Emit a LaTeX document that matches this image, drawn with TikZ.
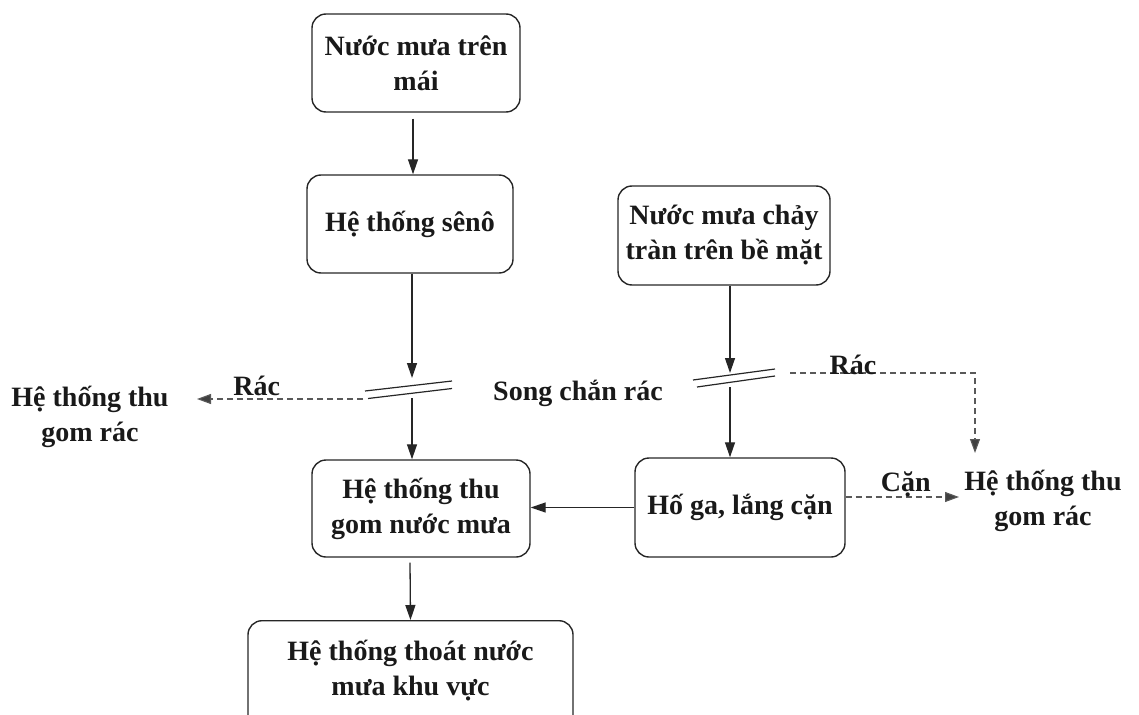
\documentclass[tikz,border=0pt]{standalone}
\usepackage{fontspec}
\setmainfont{Liberation Serif}
\usetikzlibrary{arrows.meta}
\begin{document}
\begin{tikzpicture}[x=1pt,y=-1pt,
  txt/.style={font=\fontsize{28}{35}\selectfont\bfseries, text=black!90},
  box/.style={txt, draw=black!85, line width=1.4pt, rounded corners=14pt, align=center, inner sep=0pt},
  lbl/.style={txt, align=center, inner sep=0pt},
  arr/.style={draw=black!85, line width=1.3pt, -{Triangle[length=15pt,width=10pt]}},
  darr/.style={draw=black!65, line width=1.1pt, dash pattern=on 6pt off 4pt, -{Triangle[length=14pt,width=10pt,fill=black!75]}},
  screen/.style={draw=black!85, line width=1.2pt}
]
\useasboundingbox (0,0) rectangle (1139,714);
\clip (0,0) rectangle (1139,714);

% boxes
\node[box, minimum width=208pt, minimum height=98pt] (b1) at (416,63) {Nước mưa trên\\mái};
\node[box, minimum width=206pt, minimum height=98pt] (b2) at (410,224) {Hệ thống sênô};
\node[box, minimum width=212pt, minimum height=99pt] (b3) at (724,235.5) {Nước mưa chảy\\tràn trên bề mặt};
\node[box, minimum width=218pt, minimum height=97pt] (b4) at (421,508.5) {Hệ thống thu\\gom nước mưa};
\node[box, minimum width=210pt, minimum height=99pt] (b5) at (740,507.5) {Hố ga, lắng cặn};
\node[box, minimum width=325pt, minimum height=112pt, anchor=north] (b6) at (410.5,620) {};
\node[lbl] (b6t) at (410.5,671) {Hệ thống thoát nước\\mưa khu vực};

% side labels
\node[lbl] (gl) at (90,417) {Hệ thống thu\\gom rác};
\node[lbl] (gr) at (1043,501) {Hệ thống thu\\gom rác};
\node[lbl] (song) at (578,393) {Song chắn rác};

% screens
\coordinate (s1a) at (412,378);
\coordinate (s1b) at (412,398);
\coordinate (s2a) at (730,373);
\coordinate (s2b) at (730,387);
\draw[screen] (365,391) -- (452,381);
\draw[screen] (368,398.5) -- (452,388.5);
\draw[screen] (693,380) -- (775,369);
\draw[screen] (697,387) -- (775,376);

% solid flow
\draw[arr] ([xshift=-3pt,yshift=-6pt]b1.south) -- ([xshift=3pt]b2.north);
\draw[arr] (s1a |- b2.south) -- (s1a);
\draw[arr] (s1b) -- (s1b |- b4.north);
\draw[arr] (s2a |- b3.south) -- (s2a);
\draw[arr] (s2b) -- (s2b |- b5.north);
\draw[arr] (b5.west) -- (b5.west -| b4.east);
\draw[arr] ([xshift=-11pt,yshift=-5pt]b4.south) -- (b6.north);

% dashed waste paths
\coordinate (d1s) at (363,399);
\coordinate (d1e) at (197,399);
\draw[darr] (d1s) -- node[lbl, above=3pt, pos=0.64] (rac1) {Rác} (d1e);

\coordinate (d2s) at (790,373);
\coordinate (d2e) at (975,453);
\draw[darr] (d2s) -- node[lbl, above=-2pt, pos=0.34] (rac2) {Rác} (d2e |- d2s) -- (d2e);

\coordinate (d3e) at (959,497);
\draw[darr] (b5.east |- d3e) -- node[lbl, above=-1pt, pos=0.53] (can) {Cặn} (d3e);
\end{tikzpicture}
\end{document}
